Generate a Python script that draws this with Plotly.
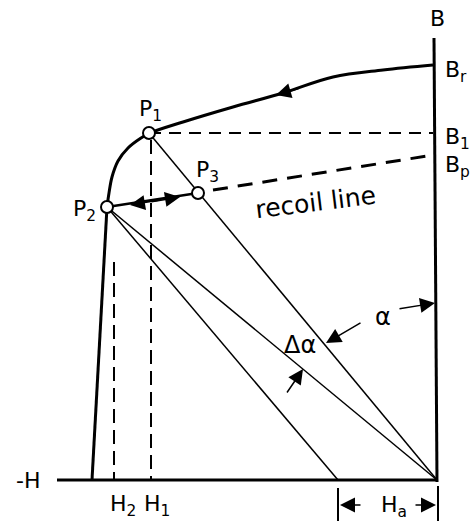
import plotly.graph_objects as go

# demagnetization curve (screen-like coords, y grows downward)
demag_x = [433, 383, 333, 283, 233, 183, 150, 141, 128, 118, 112, 109, 107, 104, 92]
demag_y = [65, 70, 77, 93, 107, 122, 133, 138, 148, 161, 177, 193, 207, 260, 480]

# operating points
point_names = ['P1', 'P2', 'P3']
point_x = [149, 107, 198]
point_y = [133, 207, 193]

origin = (437, 480)
shifted_foot = (338, 480)   # foot of load line shifted by Ha
bp_end = (427, 156)

H1_x, H2_x = 151, 114
B1_y = 133

INK = 'black'
FONT = 'DejaVu Sans'

fig = go.Figure()


def line(xs, ys, width=1.5, dash=None, shape='linear'):
    fig.add_trace(go.Scatter(
        x=xs, y=ys, mode='lines',
        line=dict(color=INK, width=width, dash=dash, shape=shape),
        hoverinfo='skip', showlegend=False
    ))


# axes
line([434, 437], [38, 482], width=3)
line([57, 437], [480, 480], width=3)

# main curve
line(demag_x[:13], demag_y[:13], width=3, shape='spline')
line(demag_x[12:], demag_y[12:], width=3)

# dashed construction lines
line([point_x[0], 433], [B1_y, B1_y], width=2, dash='12px,8px')
line([H1_x, H1_x], [140, 480], width=2, dash='14px,7px')
line([H2_x, H2_x], [262, 480], width=2, dash='14px,7px')

# recoil line: solid P2-P3, dashed P3-Bp
line([point_x[1], point_x[2]], [point_y[1], point_y[2]], width=2.5)
line([point_x[2] + 15, bp_end[0]], [point_y[2] - 3, bp_end[1]], width=3, dash='15px,10px')

# load lines
line([point_x[0], origin[0]], [point_y[0], origin[1]])
line([point_x[1], origin[0]], [point_y[1], origin[1]])
line([point_x[1], shifted_foot[0]], [point_y[1], shifted_foot[1]])

# Ha ticks
line([shifted_foot[0], shifted_foot[0]], [488, 521], width=2)
line([438, 438], [486, 521], width=2)

# point markers
fig.add_trace(go.Scatter(
    x=point_x, y=point_y, mode='markers',
    marker=dict(size=12, color='white', line=dict(color=INK, width=2)),
    hoverinfo='skip', showlegend=False
))

arrows = [
    # (tail x, tail y, head x, head y)
    (300, 88, 276, 95),      # along demag curve
    (160, 200, 130, 205),    # recoil towards P2
    (150, 202, 180, 197),    # recoil towards P3
    (398, 309, 435, 303),    # alpha to B axis
    (362, 322, 326, 343),    # alpha to load line
    (286, 394, 303, 369),    # delta alpha
    (362, 505, 340, 505),    # Ha left
    (414, 505, 436, 505),    # Ha right
]
for tx, ty, hx, hy in arrows:
    fig.add_annotation(
        x=hx, y=hy, ax=tx, ay=ty, xref='x', yref='y', axref='x', ayref='y',
        text='', showarrow=True, arrowhead=2, arrowsize=2, arrowwidth=1.5,
        arrowcolor=INK, standoff=0
    )

labels = [
    ('B', 437, 18, 'center', 0, 22),
    ('B<sub>r</sub>', 443, 71, 'left', 0, 22),
    ('B<sub>1</sub>', 443, 138, 'left', 0, 22),
    ('B<sub>p</sub>', 443, 166, 'left', 0, 22),
    ('P<sub>1</sub>', 150, 110, 'center', 0, 22),
    ('P<sub>3</sub>', 207, 171, 'center', 0, 22),
    ('P<sub>2</sub>', 84, 210, 'center', 0, 22),
    ('recoil line', 315, 202, 'center', -7, 25),
    ('α', 383, 317, 'center', 0, 24),
    ('Δα', 300, 345, 'center', 0, 24),
    ('-H', 28, 480, 'center', 0, 22),
    ('H<sub>2</sub>', 123, 505, 'center', 0, 22),
    ('H<sub>1</sub>', 157, 505, 'center', 0, 22),
    ('H<sub>a</sub>', 394, 506, 'center', 0, 22),
]
for text, x, y, anchor, angle, size in labels:
    fig.add_annotation(
        x=x, y=y, xref='x', yref='y', text=text, showarrow=False,
        xanchor=anchor, yanchor='middle', textangle=angle,
        font=dict(family=FONT, size=size, color=INK)
    )

fig.update_layout(
    width=475, height=521,
    margin=dict(l=0, r=0, t=0, b=0),
    paper_bgcolor='white', plot_bgcolor='white',
    xaxis=dict(range=[0, 475], visible=False, fixedrange=True),
    yaxis=dict(range=[521, 0], visible=False, fixedrange=True),
)

# the page body has a default 8px margin; drop it so the figure sits at 0,0
fig.write_html("out.html", config={'displayModeBar': False},
               post_script="document.body.style.margin='0';")
